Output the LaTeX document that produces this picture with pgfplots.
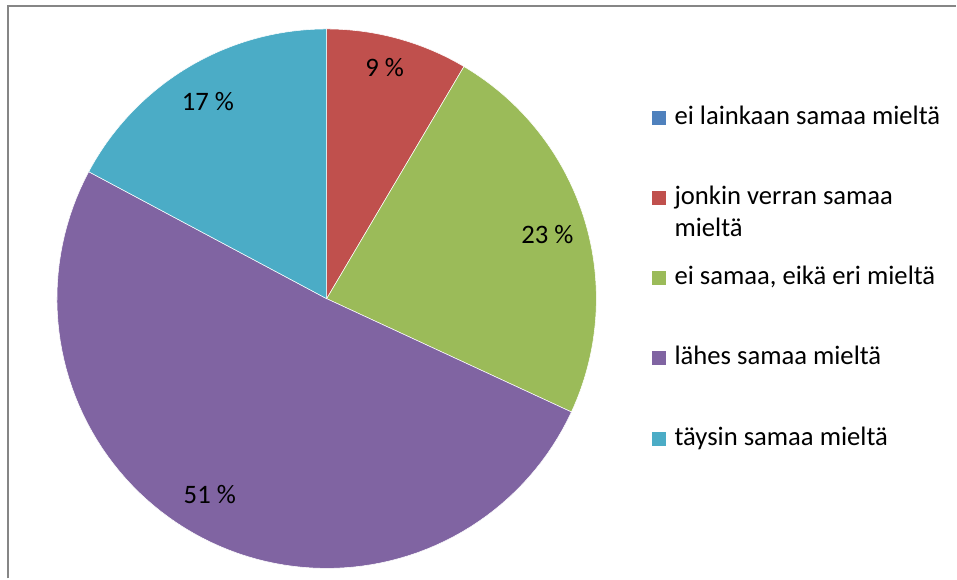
\documentclass[border=0pt]{standalone}
\usepackage{pgfplots}
\usepackage{pgfplotstable}
\pgfplotsset{compat=1.18}
\usepackage{fontspec}
\setmainfont{Carlito}

\definecolor{slice0}{HTML}{4F81BD}
\definecolor{slice1}{HTML}{C0504D}
\definecolor{slice2}{HTML}{9BBB59}
\definecolor{slice3}{HTML}{8064A2}
\definecolor{slice4}{HTML}{4BACC6}
\definecolor{framegray}{HTML}{868686}

% shares of the answers (percent), in chart order
\pgfplotstableread{
value
0
8.5
23.4
50.9
17.2
}\piedata

\def\cx{327}
\def\cy{280}
\def\rr{270}

\begin{document}
\begin{tikzpicture}
\begin{axis}[
  x=0.75pt, y=0.75pt,
  xmin=0, xmax=957, ymin=0, ymax=579,
  hide axis, clip=false,
]
\path (rel axis cs:0,0) rectangle (rel axis cs:1,1);
\draw[framegray, line width=1.5pt] (axis cs:8,0) -- (axis cs:8,573) -- (axis cs:957,573);

\gdef\angstart{90}
\pgfplotsforeachungrouped \i in {0,...,4}{%
  \pgfplotstablegetelem{\i}{value}\of\piedata
  \let\val\pgfplotsretval
  \pgfmathsetmacro\angend{\angstart-3.6*\val}
  \ifdim\val pt>0pt
    \edef\cmd{\noexpand\addplot[fill=slice\i, draw=white, line width=0.4pt,
      domain=\angend:\angstart, samples=90, variable=\noexpand\t]
      ({\cx+\rr*cos(\noexpand\t)},{\cy+\rr*sin(\noexpand\t)})
      -- (axis cs:\cx,\cy) -- cycle;}%
    \cmd
  \fi
  \global\let\angstart\angend
}

% data labels
\begin{scope}[every node/.style={font=\fontsize{20}{24}\selectfont, inner sep=0pt, text=black}]
\node at (axis cs:385,511) {9 \%};
\node at (axis cs:548,344.5) {23 \%};
\node at (axis cs:210,83.5) {51 \%};
\node at (axis cs:208,477.5) {17 \%};
\end{scope}

% legend
\begin{scope}[every node/.style={font=\fontsize{20}{24}\selectfont, inner sep=0pt, anchor=base west, text=black}]
\fill[slice0] (axis cs:653,454) rectangle (axis cs:667,468);
\node at (axis cs:675,454) {ei lainkaan samaa mieltä};
\fill[slice1] (axis cs:653,374) rectangle (axis cs:667,388);
\node at (axis cs:675,374) {jonkin verran samaa};
\node at (axis cs:675,342) {mieltä};
\fill[slice2] (axis cs:653,294) rectangle (axis cs:667,308);
\node at (axis cs:675,294) {ei samaa, eikä eri mieltä};
\fill[slice3] (axis cs:653,214) rectangle (axis cs:667,228);
\node at (axis cs:675,214) {lähes samaa mieltä};
\fill[slice4] (axis cs:653,133) rectangle (axis cs:667,147);
\node at (axis cs:675,133) {täysin samaa mieltä};
\end{scope}
\end{axis}
\end{tikzpicture}
\end{document}
